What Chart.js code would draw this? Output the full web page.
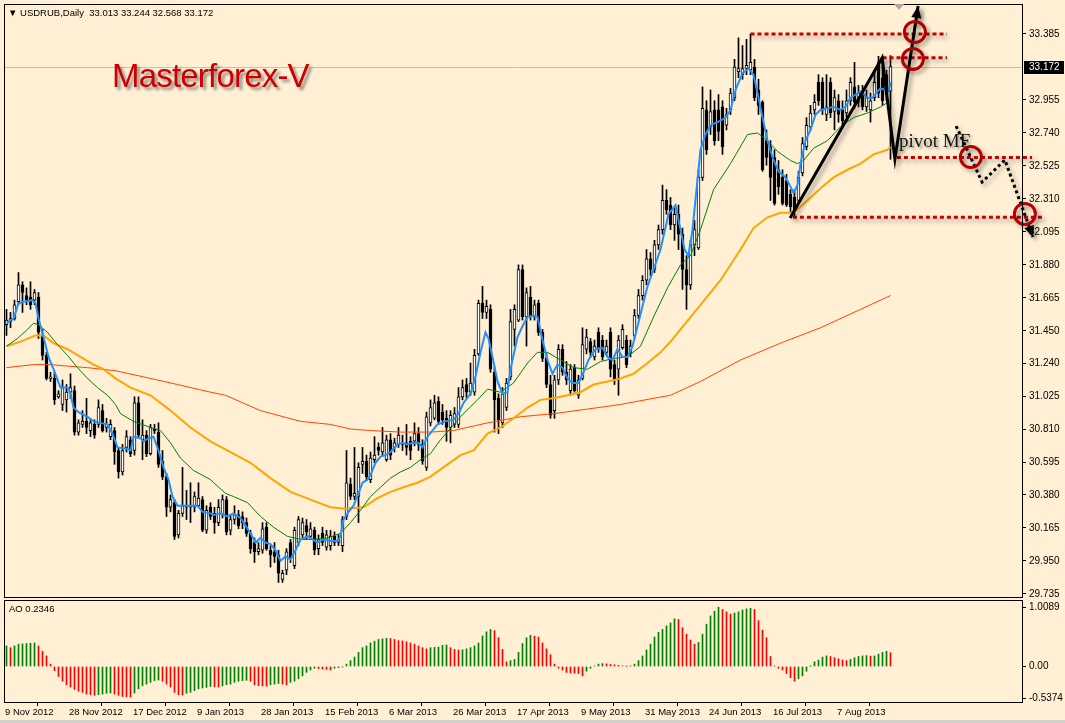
<!DOCTYPE html>
<html>
<head>
<meta charset="utf-8">
<title>USDRUB Daily</title>
<script src="https://cdn.jsdelivr.net/npm/chart.js@4.4.1/dist/chart.umd.min.js"></script>
<style>
  html, body { margin: 0; padding: 0; background: #FFEFD5; }
  #wrap { position: relative; width: 1065px; height: 723px; overflow: hidden; background: #FFEFD5; font-family: "Liberation Sans", Arial, sans-serif; }
  canvas { position: absolute; left: 0; }
  #mainChart { top: 0; }
  #aoChart { top: 598px; }
  .txt { position: absolute; white-space: pre; line-height: 1; }
  #title { left: 8px; top: 8px; font-size: 9.5px; color: #000; }
  #brand { left: 112px; top: 59px; font-size: 33px; letter-spacing: -0.8px; color: #CC0000; text-shadow: 3px 3px 3px rgba(60,60,60,0.55); }
  #pivot { left: 899px; top: 131px; font-family: "Liberation Serif", "Times New Roman", serif; font-size: 19px; color: #111; text-shadow: 2px 2px 3px rgba(0,0,0,0.4); }
  #aoTitle { left: 9px; top: 604px; font-size: 9.5px; color: #000; }
  #bottomEdge { position: absolute; left: 0; top: 720px; width: 1065px; height: 3px; background: #D4D0C8; }
</style>
</head>
<body>
<div id="wrap">
  <canvas id="mainChart" width="1065" height="598"></canvas>
  <canvas id="aoChart" width="1065" height="125"></canvas>
  <div class="txt" id="title">▼ USDRUB,Daily  33.013 33.244 32.568 33.172</div>
  <div class="txt" id="brand">Masterforex-V</div>
  <div class="txt" id="pivot">pivot MF</div>
  <div class="txt" id="aoTitle">AO 0.2346</div>
  <div id="bottomEdge"></div>
</div>
<script>
// daily bars, 9 Nov 2012 .. 23 Aug 2013 (one entry per bar)
const openP = [
  31.49,31.51,31.53,31.64,31.75,31.68,31.67,31.65,31.67,31.42,
  31.29,31.14,31.14,31.02,30.97,31.00,31.05,31.06,30.79,30.84,
  30.86,30.80,30.84,30.84,30.93,30.82,30.76,30.80,30.67,30.53,
  30.69,30.74,30.67,30.98,30.74,30.77,30.65,30.81,30.79,30.60,
  30.50,30.30,30.33,30.12,30.26,30.31,30.30,30.30,30.31,30.35,
  30.15,30.30,30.26,30.20,30.25,30.35,30.15,30.22,30.25,30.24,
  30.20,30.13,30.07,30.01,30.02,30.17,30.02,30.01,29.99,29.83,
  29.89,30.07,29.92,30.07,30.12,30.18,30.11,30.15,30.03,30.13,
  30.04,30.05,30.11,30.07,30.05,30.24,30.45,30.37,30.37,30.58,
  30.60,30.48,30.61,30.69,30.66,30.61,30.74,30.69,30.71,30.72,
  30.72,30.73,30.73,30.78,30.71,30.56,30.85,30.88,30.99,30.92,
  30.88,30.82,30.84,30.84,31.02,31.10,31.05,31.05,31.30,31.63,
  31.57,31.59,31.18,31.01,30.85,30.95,31.15,31.46,31.52,31.85,
  31.54,31.67,31.54,31.63,31.44,31.27,31.10,30.93,31.13,31.33,
  31.18,31.06,31.21,31.03,31.14,31.33,31.38,31.28,31.44,31.39,
  31.31,31.44,31.23,31.20,31.34,31.39,31.31,31.42,31.55,31.68,
  31.78,31.92,31.85,32.01,32.11,32.30,32.27,32.14,32.21,32.08,
  31.85,31.75,32.01,31.99,32.45,32.89,32.78,32.89,32.89,32.91,
  32.79,32.89,32.97,33.14,33.12,33.16,33.15,33.17,33.02,32.94,
  32.69,32.65,32.58,32.50,32.45,32.43,32.34,32.32,32.30,32.48,
  32.65,32.78,32.89,33.07,33.07,32.86,33.07,32.88,32.95,32.89,
  32.87,32.95,33.04,32.94,33.00,32.91,32.89,32.97,33.20,33.10,
  33.12,33.013
];
const highP = [
  31.59,31.57,31.65,31.83,31.77,31.73,31.77,31.72,31.70,31.46,
  31.31,31.18,31.18,31.06,31.13,31.10,31.17,31.09,30.87,30.93,
  31.01,30.88,30.87,31.00,30.97,30.88,30.87,30.82,30.69,30.71,
  30.80,30.76,31.02,31.02,30.87,30.80,30.84,30.84,30.85,30.67,
  30.52,30.38,30.35,30.28,30.56,30.41,30.46,30.40,30.46,30.37,
  30.31,30.33,30.30,30.35,30.38,30.37,30.25,30.31,30.28,30.27,
  30.23,30.15,30.10,30.07,30.20,30.20,30.05,30.07,30.02,29.89,
  30.03,30.09,30.17,30.24,30.23,30.22,30.20,30.17,30.12,30.17,
  30.15,30.15,30.14,30.12,30.24,30.67,30.49,30.69,30.59,30.69,
  30.64,30.66,30.76,30.72,30.82,30.77,30.78,30.75,30.82,30.77,
  30.84,30.76,30.85,30.82,30.74,30.92,31.00,31.03,31.02,30.97,
  30.93,30.93,30.95,31.08,31.13,31.14,31.24,31.33,31.65,31.74,
  31.65,31.62,31.21,31.04,31.08,31.14,31.59,31.62,31.88,31.88,
  31.73,31.74,31.65,31.65,31.46,31.31,31.16,31.16,31.36,31.36,
  31.25,31.23,31.23,31.16,31.47,31.46,31.40,31.39,31.47,31.42,
  31.39,31.47,31.26,31.42,31.49,31.42,31.39,31.59,31.72,31.81,
  31.98,31.96,32.04,32.14,32.40,32.37,32.32,32.25,32.27,32.12,
  31.94,32.04,32.17,32.50,33.04,32.95,33.02,32.95,32.99,32.95,
  32.90,33.03,33.22,33.36,33.31,33.35,33.385,33.22,33.09,32.95,
  32.76,32.69,32.63,32.56,32.50,32.47,32.37,32.37,32.49,32.71,
  32.84,32.92,32.99,33.12,33.10,33.12,33.10,33.02,32.99,32.95,
  33.02,33.10,33.20,33.05,33.05,33.02,33.00,33.15,33.24,33.18,
  33.15,33.244
];
const lowP = [
  31.42,31.47,31.52,31.62,31.57,31.62,31.59,31.62,31.40,31.26,
  31.13,31.12,30.97,31.01,30.93,30.92,31.01,30.77,30.77,30.82,
  30.78,30.76,30.75,30.82,30.79,30.79,30.74,30.58,30.49,30.51,
  30.66,30.63,30.64,30.75,30.61,30.63,30.64,30.78,30.56,30.48,
  30.24,30.27,30.09,30.10,30.24,30.22,30.20,30.27,30.30,30.14,
  30.13,30.22,30.13,30.18,30.23,30.12,30.12,30.19,30.16,30.16,
  30.11,30.00,29.94,29.99,30.00,30.02,29.91,29.94,29.81,29.81,
  29.86,29.94,29.90,30.05,30.10,30.09,30.09,29.99,29.99,30.05,
  30.02,30.02,30.05,30.05,30.01,30.22,30.35,30.35,30.20,30.52,
  30.48,30.46,30.59,30.64,30.64,30.60,30.61,30.66,30.69,30.67,
  30.64,30.61,30.70,30.67,30.58,30.54,30.83,30.87,30.84,30.84,
  30.73,30.72,30.82,30.82,31.00,31.01,31.03,31.03,31.29,31.53,
  31.53,31.18,30.79,30.78,30.82,30.93,31.13,31.35,31.51,31.52,
  31.35,31.52,31.52,31.42,31.25,31.08,30.88,30.88,31.10,31.16,
  31.10,31.03,31.05,31.01,31.13,31.30,31.28,31.26,31.31,31.26,
  31.29,31.15,31.10,31.03,31.33,31.21,31.28,31.40,31.53,31.65,
  31.75,31.81,31.83,31.98,32.08,32.21,32.11,32.04,31.98,31.72,
  31.59,31.72,31.94,31.98,32.43,32.60,32.73,32.66,32.69,32.60,
  32.76,32.86,32.95,33.10,33.09,33.12,33.12,32.95,32.86,32.49,
  32.53,32.30,32.27,32.34,32.27,32.26,32.22,32.19,32.28,32.46,
  32.63,32.76,32.86,32.92,32.86,32.82,32.84,32.76,32.81,32.79,
  32.84,32.92,32.90,32.91,32.89,32.88,32.81,32.95,32.97,32.92,
  32.95,32.568
];
const closeP = [
  31.52,31.53,31.62,31.75,31.70,31.65,31.62,31.70,31.44,31.29,
  31.14,31.15,31.00,31.04,31.08,31.05,31.08,30.79,30.85,30.86,
  30.82,30.85,30.77,30.95,30.80,30.84,30.84,30.66,30.53,30.67,
  30.76,30.65,30.98,30.77,30.77,30.65,30.82,30.80,30.58,30.50,
  30.30,30.35,30.11,30.26,30.31,30.30,30.31,30.37,30.36,30.15,
  30.28,30.24,30.20,30.30,30.35,30.14,30.22,30.25,30.18,30.20,
  30.13,30.03,30.01,30.03,30.16,30.03,29.99,29.98,29.87,29.87,
  30.01,29.97,30.15,30.22,30.20,30.14,30.16,30.02,30.09,30.07,
  30.12,30.11,30.07,30.09,30.22,30.46,30.37,30.39,30.56,30.60,
  30.50,30.62,30.64,30.67,30.72,30.74,30.64,30.72,30.77,30.71,
  30.69,30.67,30.78,30.71,30.60,30.89,30.95,30.98,30.86,30.87,
  30.82,30.90,30.91,31.02,31.08,31.05,31.11,31.29,31.63,31.57,
  31.61,31.20,31.00,30.87,31.04,31.11,31.51,31.59,31.85,31.54,
  31.70,31.54,31.62,31.44,31.27,31.10,30.90,31.13,31.33,31.18,
  31.13,31.20,31.06,31.13,31.36,31.41,31.31,31.35,31.33,31.28,
  31.35,31.20,31.13,31.39,31.46,31.23,31.35,31.55,31.68,31.78,
  31.92,31.85,32.01,32.11,32.30,32.24,32.14,32.21,32.08,31.85,
  31.75,32.01,32.11,32.45,32.90,32.63,32.88,32.69,32.75,32.65,
  32.86,33.00,33.17,33.16,33.16,33.18,33.20,32.97,32.92,32.50,
  32.58,32.45,32.28,32.39,32.28,32.27,32.26,32.24,32.45,32.67,
  32.79,32.87,32.94,32.95,32.89,32.91,32.87,32.97,32.86,32.82,
  32.95,33.07,32.94,33.00,32.91,32.97,32.95,33.07,33.00,32.95,
  32.99,33.172
];

// Awesome Oscillator, one value per bar
const aoVals = [
  0.35,0.32,0.35,0.38,0.385,0.39,0.395,0.40,0.35,0.26,
  0.18,0.04,-0.07,-0.17,-0.25,-0.31,-0.35,-0.39,-0.42,-0.44,
  -0.47,-0.48,-0.49,-0.48,-0.47,-0.455,-0.45,-0.47,-0.49,-0.51,
  -0.515,-0.52,-0.45,-0.38,-0.33,-0.30,-0.27,-0.24,-0.23,-0.25,
  -0.30,-0.35,-0.44,-0.48,-0.485,-0.455,-0.44,-0.41,-0.38,-0.365,
  -0.355,-0.34,-0.345,-0.35,-0.33,-0.31,-0.30,-0.27,-0.25,-0.24,
  -0.235,-0.25,-0.31,-0.325,-0.33,-0.335,-0.31,-0.30,-0.29,-0.30,
  -0.31,-0.27,-0.25,-0.21,-0.16,-0.10,-0.06,-0.03,-0.035,-0.045,
  -0.05,-0.06,-0.03,-0.02,-0.005,0.04,0.10,0.16,0.24,0.32,
  0.35,0.40,0.43,0.46,0.47,0.48,0.475,0.46,0.44,0.435,
  0.42,0.40,0.38,0.35,0.32,0.30,0.32,0.325,0.33,0.36,
  0.365,0.32,0.29,0.28,0.285,0.30,0.32,0.35,0.40,0.52,
  0.59,0.63,0.61,0.49,0.29,0.08,0.10,0.12,0.24,0.39,
  0.49,0.53,0.515,0.50,0.40,0.30,0.20,0.04,-0.03,-0.06,
  -0.10,-0.11,-0.115,-0.12,-0.16,-0.08,-0.03,0.01,0.04,0.05,
  0.045,0.035,0.03,0.02,0.01,0.005,0.01,0.04,0.10,0.18,
  0.28,0.38,0.50,0.58,0.63,0.69,0.74,0.81,0.80,0.66,
  0.55,0.45,0.38,0.41,0.55,0.72,0.86,0.94,1.0089,0.97,
  0.93,0.89,0.91,0.93,0.96,0.98,0.99,0.97,0.78,0.62,
  0.49,0.17,0.01,-0.03,-0.06,-0.12,-0.19,-0.25,-0.21,-0.16,
  -0.08,0.003,0.08,0.11,0.16,0.18,0.17,0.15,0.13,0.11,
  0.10,0.12,0.15,0.17,0.18,0.185,0.175,0.18,0.21,0.24,
  0.26,0.2346
];

// moving averages (bar index, price)
const blueIdx = [0,1.75,3,4.25,6.5,7.25,8,9.25,10.5,11.75,13.5,15.25,16,16.75,18,20.25,21.75,23.5,25.25,26.5,
  27.75,30.25,31,31.75,33.5,34.25,35.5,36.75,38,39.25,40.5,41.5,42.75,45.25,47.75,49,51,51.75,53.5,55.25,
  56.75,58.5,59.75,61,62.25,63.5,64.75,66,67.25,68.5,69.75,71,72.25,73.5,75.25,76.5,77.75,79.25,81,82.75,
  83.5,84.25,85.5,86.75,88,89,90.25,91,92.25,93.5,94.75,96,97.75,99,100.25,101.5,103,104,105.25,106.5,
  107.75,109.75,111.75,113,114.25,116,117.25,118.5,119.75,120.5,121.5,122.75,124,125.25,126,127.75,129,130.25,131.75,132.75,
  134,135.25,136.5,137.75,139,140.25,141.5,143,144.25,145.5,147.25,149,150.25,151.5,152.75,154,155.25,156.5,157.75,159,
  160.25,161.75,163.5,165.5,167.25,168.5,169.5,170.5,171.5,172.5,173.5,174.75,176,178.5,179.75,181,182.25,184,185.5,186.75,
  188,189,190.25,191.5,193,194.75,196,196.75,197.75,198.5,199.75,201,202.25,203.5,205.25,206.75,208.5,209.75,211,212.25,
  213.5,215.25,216.5,217.75,218.5,219.75,220.5,221];
const bluePx = [31.50,31.53,31.63,31.64,31.65,31.63,31.53,31.41,31.28,31.20,31.08,31.08,31.04,30.95,30.92,30.89,30.86,30.85,30.84,30.78,
  30.69,30.68,30.67,30.76,30.75,30.73,30.75,30.76,30.67,30.56,30.48,30.37,30.31,30.31,30.31,30.27,30.26,30.25,30.26,30.24,
  30.26,30.23,30.18,30.13,30.07,30.10,30.07,30.06,30.02,29.95,29.98,29.96,30.02,30.09,30.11,30.09,30.07,30.09,30.08,30.08,
  30.11,30.22,30.27,30.31,30.39,30.46,30.48,30.51,30.59,30.63,30.64,30.66,30.71,30.72,30.71,30.72,30.72,30.69,30.76,30.80,
  30.84,30.86,30.87,30.91,30.98,31.04,31.15,31.31,31.44,31.40,31.28,31.12,31.04,31.05,31.20,31.41,31.48,31.54,31.55,31.54,
  31.39,31.26,31.17,31.23,31.21,31.14,31.11,31.11,31.18,31.26,31.33,31.34,31.28,31.26,31.33,31.28,31.28,31.35,31.48,31.61,
  31.74,31.85,31.98,32.21,32.27,32.11,31.98,31.94,32.11,32.37,32.63,32.73,32.79,32.82,32.84,32.89,33.02,33.13,33.16,33.12,
  32.97,32.84,32.69,32.58,32.49,32.45,32.39,32.35,32.40,32.54,32.69,32.76,32.86,32.89,32.90,32.91,32.89,32.91,32.97,32.99,
  33.01,32.97,32.97,33.01,33.03,33.02,33.01,33.07];
const greenIdx = [0,2.75,5.25,6.75,8,10.25,12.75,15.25,17.75,20.25,22.75,25.25,27.25,28.5,31.75,36,38.5,41,43.5,46.75,
  51,54.75,56.75,60.25,63.5,66.75,70.25,73.5,76.75,80.25,83.5,86,88.5,91,93.5,96,98.5,101,103.5,106,
  108.5,113.5,117.75,120.25,123.5,126.75,130.25,132.75,135.25,138.5,141.75,145.25,148.5,151.75,155.25,158.5,161.75,165.25,168.5,171,
  173.5,176.75,181,185.25,187.75,190.25,192.75,196,197.75,199.25,201.75,205.25,208.5,211.75,215.25,218.5,221];
const greenPx = [31.35,31.40,31.46,31.50,31.49,31.44,31.36,31.29,31.21,31.14,31.08,31.03,30.97,30.91,30.86,30.82,30.80,30.72,30.62,30.54,
  30.48,30.39,30.37,30.33,30.24,30.17,30.11,30.09,30.09,30.10,30.13,30.20,30.28,30.37,30.43,30.49,30.53,30.56,30.61,30.65,
  30.74,30.89,31.00,31.07,31.05,31.11,31.24,31.31,31.31,31.26,31.21,31.20,31.25,31.27,31.28,31.35,31.54,31.73,31.88,31.94,
  32.11,32.37,32.54,32.73,32.74,32.69,32.62,32.56,32.54,32.56,32.64,32.69,32.78,32.84,32.87,32.91,32.95];
const orangeIdx = [0,3.5,7.25,9.25,11.75,15.25,18.5,21.75,24.25,27.25,31,36,41,46,51,56,61,66,71,76,
  81,84.75,89.25,92.75,96,99.25,102.75,106,113.5,116.75,120.25,123.5,126.75,130.25,133.5,136.75,140.25,143.5,146.75,150.25,
  153.5,156.75,160.25,163.5,166,168.5,173.5,178.5,183.5,186.75,190.25,193.5,196.75,200.25,203.5,206.75,210.25,213.5,216.75,220.25,221];
const orangePx = [31.35,31.38,31.42,31.42,31.37,31.33,31.28,31.23,31.20,31.14,31.08,31.03,30.93,30.82,30.73,30.66,30.59,30.49,30.40,30.35,
  30.30,30.29,30.30,30.36,30.40,30.43,30.46,30.50,30.64,30.67,30.78,30.82,30.88,30.95,31.00,31.01,31.03,31.05,31.10,31.12,
  31.14,31.17,31.24,31.31,31.38,31.46,31.62,31.78,31.98,32.12,32.19,32.22,32.22,32.30,32.38,32.45,32.50,32.54,32.60,32.63,32.65];
const redIdx = [0,6.75,11,15.25,20.25,27.25,34.25,42.75,51,54.75,63.5,73.5,81,86,91,98.5,106,111.75,120.25,128.5,
  136.75,145.25,153.5,161.75,166,173.5,183.5,193.5,203.5,213.5,221];
const redPx = [31.21,31.23,31.23,31.22,31.21,31.19,31.15,31.10,31.05,31.03,30.93,30.86,30.84,30.81,30.80,30.79,30.79,30.80,30.85,30.89,
  30.91,30.94,30.97,31.01,31.03,31.12,31.26,31.37,31.47,31.59,31.68];

// axis ticks
const priceTicks = [33.385,32.955,32.740,32.525,32.310,32.095,31.880,31.665,31.450,31.240,31.025,30.810,30.595,30.380,30.165,29.950,29.735];
const dateLabels = ['9 Nov 2012','28 Nov 2012','17 Dec 2012','9 Jan 2013','28 Jan 2013','15 Feb 2013','6 Mar 2013',
  '26 Mar 2013','17 Apr 2013','9 May 2013','31 May 2013','24 Jun 2013','16 Jul 2013','7 Aug 2013'];
const dateTickIdx = [-0.375,15.625,31.625,47.625,63.625,79.625,95.625,111.625,127.625,143.625,159.625,175.625,191.625,207.625];
const aoTickVals = [1.0089, 0, -0.5374];
const aoTickText = ['1.0089', '0.00', '-0.5374'];
const lastClose = 33.172;

// hand-drawn analysis marks (bar index, price)
const levelPx = [33.385, 33.23, 32.58, 32.19];
const levelFrom = [186, 219, 222.6, 196.6];
const levelTo = [235.1, 235.1, 256.4, 258.9];
const ringIdx = [227.1, 226.6, 241.1, 254.6];
const ringPx = [33.398, 33.222, 32.583, 32.212];
const zigIdx = [195.9, 218.9, 222.1, 227.9];
const zigPx = [32.186, 33.229, 32.570, 33.568];
const dotIdx = [237.4, 243.9, 249.6, 256.6];
const dotPx = [32.785, 32.420, 32.564, 32.062];

Chart.defaults.font.family = '"Liberation Sans", Arial, sans-serif';
Chart.defaults.font.size = 10;
Chart.defaults.color = '#000';

const xMin = -0.375, xMax = 253.875;
const pts = (xs, ys) => xs.map((x, k) => ({ x, y: ys[k] }));

const bodies = closeP.map((c, i) => ({ x: i, y: [Math.min(openP[i], c), Math.max(openP[i], c)] }));
const bodyColors = closeP.map((c, i) => c >= openP[i] ? '#FFFFFF' : '#000000');
const wicks = closeP.map((c, i) => ({ x: i, y: [lowP[i], highP[i]] }));

function arrowHead(ctx, x1, y1, x2, y2, len, half) {
  const a = Math.atan2(y2 - y1, x2 - x1);
  const bx = x2 - len * Math.cos(a), by = y2 - len * Math.sin(a);
  ctx.beginPath();
  ctx.moveTo(x2, y2);
  ctx.lineTo(bx + half * Math.sin(a), by - half * Math.cos(a));
  ctx.lineTo(bx - half * Math.sin(a), by + half * Math.cos(a));
  ctx.closePath();
  ctx.fill();
}

const mainMarks = {
  id: 'mainMarks',
  beforeDatasetsDraw(chart) {
    const { ctx, chartArea: a, scales: { y } } = chart;
    const yy = Math.round(y.getPixelForValue(lastClose)) + 0.5;
    ctx.save();
    ctx.strokeStyle = '#C0C0C0';
    ctx.lineWidth = 1;
    ctx.beginPath();
    ctx.moveTo(a.left, yy);
    ctx.lineTo(a.right, yy);
    ctx.stroke();
    ctx.restore();
  },
  afterDatasetsDraw(chart) {
    const { ctx, scales: { x, y } } = chart;
    const X = v => x.getPixelForValue(v), Y = v => y.getPixelForValue(v);
    ctx.save();
    ctx.shadowColor = 'rgba(0,0,0,0.35)';
    ctx.shadowBlur = 4;
    ctx.shadowOffsetX = 3;
    ctx.shadowOffsetY = 3;

    // red dotted levels
    ctx.strokeStyle = '#C80000';
    ctx.lineWidth = 3;
    ctx.setLineDash([4, 3]);
    levelPx.forEach((p, k) => {
      ctx.beginPath();
      ctx.moveTo(X(levelFrom[k]), Y(p));
      ctx.lineTo(X(levelTo[k]), Y(p));
      ctx.stroke();
    });

    // zigzag with arrow
    ctx.setLineDash([]);
    ctx.strokeStyle = '#000';
    ctx.fillStyle = '#000';
    ctx.lineWidth = 3;
    ctx.lineJoin = 'miter';
    ctx.beginPath();
    zigIdx.forEach((v, k) => { if (k) ctx.lineTo(X(v), Y(zigPx[k])); else ctx.moveTo(X(v), Y(zigPx[k])); });
    ctx.stroke();
    const n = zigIdx.length - 1;
    arrowHead(ctx, X(zigIdx[n - 1]), Y(zigPx[n - 1]), X(zigIdx[n]), Y(zigPx[n]), 12, 5);

    // dotted forecast path with arrow
    ctx.setLineDash([3, 3]);
    ctx.beginPath();
    dotIdx.forEach((v, k) => { if (k) ctx.lineTo(X(v), Y(dotPx[k])); else ctx.moveTo(X(v), Y(dotPx[k])); });
    ctx.stroke();
    ctx.setLineDash([]);
    const m = dotIdx.length - 1;
    arrowHead(ctx, X(dotIdx[m - 1]), Y(dotPx[m - 1]), X(dotIdx[m]), Y(dotPx[m]), 11, 5);

    // circles
    ctx.strokeStyle = '#B40000';
    ctx.lineWidth = 3;
    ringIdx.forEach((v, k) => {
      ctx.beginPath();
      ctx.arc(X(v), Y(ringPx[k]), 10.5, 0, Math.PI * 2);
      ctx.stroke();
    });
    ctx.restore();
  },
  afterDraw(chart) {
    const { ctx, chartArea: a, scales: { x, y } } = chart;
    ctx.save();
    ctx.strokeStyle = '#000';
    ctx.lineWidth = 1;
    ctx.strokeRect(a.left - 0.5, a.top - 0.5, a.right - a.left + 1, a.bottom - a.top + 1);
    // shift marker
    const sx = Math.round(x.getPixelForValue(223.2));
    ctx.fillStyle = '#A8A8A8';
    ctx.beginPath();
    ctx.moveTo(sx - 5, a.top - 1);
    ctx.lineTo(sx + 5, a.top - 1);
    ctx.lineTo(sx, a.top + 5);
    ctx.closePath();
    ctx.fill();
    // current price box
    const yy = Math.round(y.getPixelForValue(lastClose));
    ctx.fillStyle = '#000';
    ctx.fillRect(a.right + 2, yy - 6, 40, 13);
    ctx.fillStyle = '#FFF';
    ctx.font = '10px "Liberation Sans", Arial, sans-serif';
    ctx.textBaseline = 'middle';
    ctx.textAlign = 'left';
    ctx.fillText(lastClose.toFixed(3), a.right + 7, yy + 0.5);
    ctx.restore();
  }
};

const frameOnly = {
  id: 'frameOnly',
  afterDraw(chart) {
    const { ctx, chartArea: a } = chart;
    ctx.save();
    ctx.strokeStyle = '#000';
    ctx.lineWidth = 1;
    ctx.strokeRect(a.left - 0.5, a.top - 0.5, a.right - a.left + 1, a.bottom - a.top + 1);
    ctx.restore();
  }
};

new Chart(document.getElementById('mainChart'), {
  type: 'bar',
  data: {
    datasets: [
      { type: 'line', data: pts(blueIdx, bluePx), borderColor: '#1E90FF', borderWidth: 2, pointRadius: 0, tension: 0, fill: false, order: 0 },
      { type: 'line', data: pts(greenIdx, greenPx), borderColor: '#008000', borderWidth: 1, pointRadius: 0, tension: 0, fill: false, order: 1 },
      { type: 'line', data: pts(orangeIdx, orangePx), borderColor: '#FFA500', borderWidth: 2, pointRadius: 0, tension: 0, fill: false, order: 1 },
      { type: 'line', data: pts(redIdx, redPx), borderColor: '#FF4500', borderWidth: 1, pointRadius: 0, tension: 0, fill: false, order: 1 },
      { type: 'bar', data: bodies, backgroundColor: bodyColors, borderColor: '#000', borderWidth: 1, borderSkipped: false,
        barThickness: 3, grouped: false, order: 2 },
      { type: 'bar', data: wicks, backgroundColor: '#000', borderWidth: 0, barThickness: 1, grouped: false, order: 3 }
    ]
  },
  options: {
    responsive: false,
    devicePixelRatio: 1,
    animation: false,
    layout: { padding: { left: 5, top: 5, right: 0, bottom: 1 } },
    plugins: { legend: { display: false }, tooltip: { enabled: false } },
    scales: {
      x: { type: 'linear', min: xMin, max: xMax, offset: false, display: false },
      y: {
        position: 'right', min: 29.715, max: 33.574,
        afterFit(s) { s.width = 43; s.paddingTop = 0; s.paddingBottom = 0; },
        afterBuildTicks(s) { s.ticks = priceTicks.map(v => ({ value: v })); },
        ticks: { autoSkip: false, padding: 3, color: '#000', callback: v => v.toFixed(3) },
        grid: { drawOnChartArea: false, drawTicks: true, tickLength: 4, color: '#000' },
        border: { display: false }
      }
    }
  },
  plugins: [mainMarks]
});

const aoColors = aoVals.map((v, i) => (i === 0 || v >= aoVals[i - 1]) ? '#008000' : '#FF0000');

new Chart(document.getElementById('aoChart'), {
  type: 'bar',
  data: {
    datasets: [{ data: aoVals.map((v, i) => ({ x: i, y: v })), backgroundColor: aoColors, borderWidth: 0, barThickness: 1 }]
  },
  options: {
    responsive: false,
    devicePixelRatio: 1,
    animation: false,
    layout: { padding: { left: 5, top: 3, right: 0, bottom: 0 } },
    plugins: { legend: { display: false }, tooltip: { enabled: false } },
    scales: {
      x: {
        type: 'linear', min: xMin, max: xMax, offset: false, position: 'bottom',
        afterFit(s) { s.height = 21; s.paddingLeft = 0; s.paddingRight = 0; },
        afterBuildTicks(s) { s.ticks = dateTickIdx.map(v => ({ value: v })); },
        ticks: { autoSkip: false, maxRotation: 0, minRotation: 0, align: 'start', padding: 1, color: '#000',
          font: { size: 9.5 }, callback: (v, i) => dateLabels[i] },
        grid: { drawOnChartArea: false, drawTicks: true, tickLength: 4, color: '#000' },
        border: { display: false }
      },
      y: {
        position: 'right', min: -0.604, max: 1.114,
        afterFit(s) { s.width = 43; s.paddingTop = 0; s.paddingBottom = 0; },
        afterBuildTicks(s) { s.ticks = aoTickVals.map(v => ({ value: v })); },
        ticks: { autoSkip: false, padding: 3, color: '#000', callback: (v, i) => aoTickText[i] },
        grid: { drawOnChartArea: false, drawTicks: true, tickLength: 4, color: '#000' },
        border: { display: false }
      }
    }
  },
  plugins: [frameOnly]
});
</script>
</body>
</html>
